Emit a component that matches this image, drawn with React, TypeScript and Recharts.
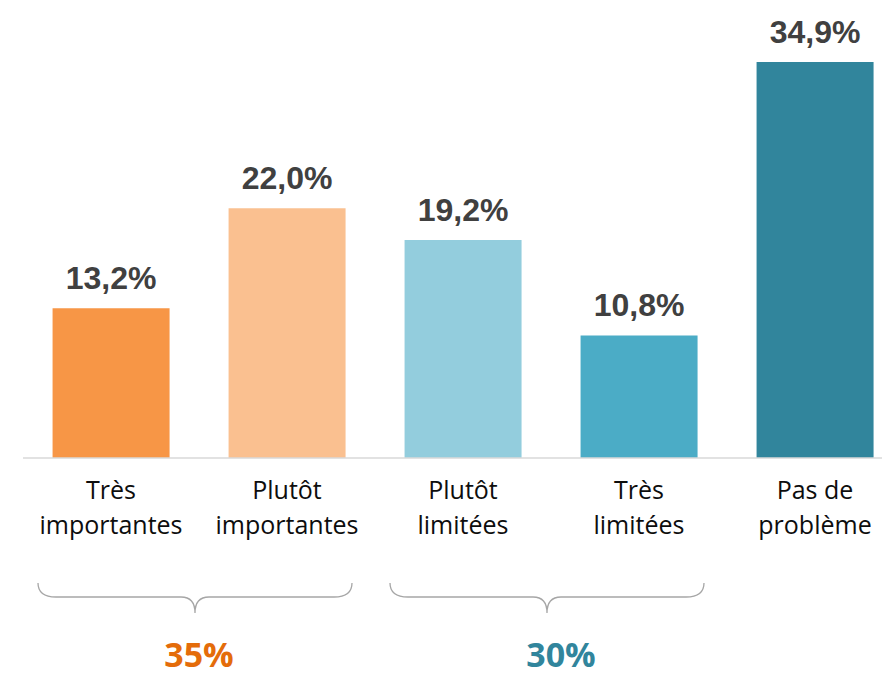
import { BarChart, Bar, XAxis, YAxis, Cell, LabelList, Customized } from 'recharts';

// ─── Data ─────────────────────────────────────────────────────────────────────

const CATEGORIES = ['Très\nimportantes', 'Plutôt\nimportantes', 'Plutôt\nlimitées', 'Très\nlimitées', 'Pas de\nproblème'];
const VALUES = [13.2, 22.0, 19.2, 10.8, 34.9];
const BAR_COLORS = ['#F79646', '#FAC090', '#93CDDD', '#4BACC6', '#31859C'];

// groups shown with a brace under the axis: [first index, last index]
const GROUP_RANGES = [[0, 1], [2, 3]];
const GROUP_LABELS = ['35%', '30%'];
const GROUP_COLORS = ['#E46C0A', '#31859C'];

const DATA = CATEGORIES.map((name, i) => ({ name, value: VALUES[i] }));

// ─── Layout ───────────────────────────────────────────────────────────────────

const WIDTH = 910;
const HEIGHT = 678;
const MARGIN = { top: 4, right: 7, bottom: 0, left: 23 };
const PLOT_W = WIDTH - MARGIN.left - MARGIN.right;
const BASE_Y = 458;
const BAND = PLOT_W / CATEGORIES.length;

const fmt = (v: number) => `${v.toFixed(1).replace('.', ',')}%`;

function CategoryTick(props: any) {
  const { x, y, payload } = props;
  const lines = String(payload.value).split('\n');
  return (
    <g>
      {lines.map((line, i) => (
        <text
          key={i} x={x} y={y + 41 + i * 35} textAnchor="middle"
          fontFamily="'Open Sans', sans-serif" fontSize={25} fill="#0D0D0D"
        >
          {line}
        </text>
      ))}
    </g>
  );
}

function Braces() {
  const top = BASE_Y + 125;
  const mid = top + 14;
  const tip = mid + 16;
  return (
    <g>
      {GROUP_RANGES.map(([a, b], i) => {
        const x1 = MARGIN.left + a * BAND + 15;
        const x2 = MARGIN.left + (b + 1) * BAND - 23;
        const c = (x1 + x2) / 2;
        const labelX = MARGIN.left + ((a + b + 1) / 2) * BAND + i * 10;
        const d = `M ${x1} ${top} Q ${x1} ${mid} ${x1 + 18} ${mid} L ${c - 14} ${mid} Q ${c} ${mid} ${c} ${tip}`
          + ` Q ${c} ${mid} ${c + 14} ${mid} L ${x2 - 18} ${mid} Q ${x2} ${mid} ${x2} ${top}`;
        return (
          <g key={i}>
            <path d={d} fill="none" stroke="#A6A6A6" strokeWidth={1.3} />
            <text
              x={labelX} y={667} textAnchor="middle" fontFamily="'Open Sans', sans-serif"
              fontWeight={700} fontSize={34} fill={GROUP_COLORS[i]}
            >
              {GROUP_LABELS[i]}
            </text>
          </g>
        );
      })}
    </g>
  );
}

export default function App() {
  return (
    <div style={{ position: 'fixed', left: 0, top: 0, width: 882, height: 678, overflow: 'hidden', background: '#fff' }}>
      <BarChart width={WIDTH} height={HEIGHT} data={DATA} margin={MARGIN} barCategoryGap="16.8%">
        <XAxis
          dataKey="name" height={HEIGHT - BASE_Y} tickLine={false} tickSize={0} tickMargin={0}
          axisLine={{ stroke: '#D9D9D9', strokeWidth: 1.5 }} tick={<CategoryTick />} interval={0}
        />
        <YAxis hide domain={[0, 40]} />
        <Bar dataKey="value" isAnimationActive={false}>
          {DATA.map((_, i) => (
            <Cell key={i} fill={BAR_COLORS[i]} />
          ))}
          <LabelList
            dataKey="value" position="top" offset={19} formatter={(v: any) => fmt(Number(v))}
            style={{ fontFamily: "'Liberation Sans', Arial, sans-serif", fontWeight: 700, fontSize: 32, fill: '#404040' }}
          />
        </Bar>
        <Customized component={<Braces />} />
      </BarChart>
    </div>
  );
}
